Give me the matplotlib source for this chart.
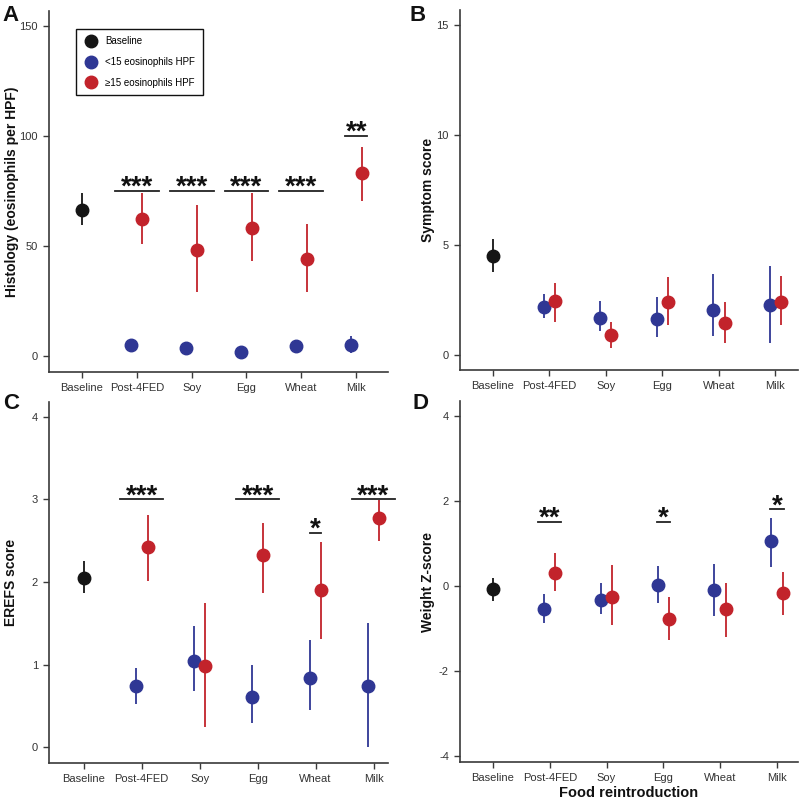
import numpy as np
import matplotlib.pyplot as plt

plt.rcParams['font.family'] = ['Liberation Sans', 'DejaVu Sans']
plt.rcParams['axes.unicode_minus'] = False

foods = ['Baseline', 'Post-4FED', 'Soy', 'Egg', 'Wheat', 'Milk']

# A - histology (eosinophils per HPF): baseline mean/low/high, then the 5 reintroduction steps
hist_base = [66.2, 59.4, 74.2]
hist_blue = [5.0, 3.5, 1.7, 4.2, 4.7]
hist_blue_lo = [4.0, 2.8, 1.0, 3.4, 1.2]
hist_blue_hi = [6.0, 4.3, 2.4, 5.0, 8.8]
hist_red = [62.3, 47.9, 58.3, 44.0, 83.3]
hist_red_lo = [50.8, 29.0, 43.2, 29.1, 70.6]
hist_red_hi = [73.9, 68.6, 73.9, 60.0, 95.0]
hist_sig = [(1, 75, 0.4, '***'), (2, 75, 0.4, '***'), (3, 75, 0.4, '***'),
            (4, 75, 0.4, '***'), (5, 100, 0.2, '**')]

# B - symptom score
symp_base = [4.5, 3.79, 5.26]
symp_blue = [2.17, 1.70, 1.62, 2.05, 2.26]
symp_blue_lo = [1.67, 1.09, 0.80, 0.86, 0.56]
symp_blue_hi = [2.80, 2.47, 2.64, 3.71, 4.05]
symp_red = [2.44, 0.91, 2.42, 1.44, 2.42]
symp_red_lo = [1.52, 0.30, 1.39, 0.56, 1.39]
symp_red_hi = [3.29, 1.52, 3.56, 2.42, 3.59]
symp_sig = []

# C - EREFS score
erefs_base = [2.05, 1.87, 2.26]
erefs_blue = [0.74, 1.05, 0.61, 0.84, 0.74]
erefs_blue_lo = [0.52, 0.68, 0.30, 0.45, 0.0]
erefs_blue_hi = [0.96, 1.47, 1.00, 1.30, 1.50]
erefs_red = [2.42, 0.99, 2.33, 1.90, 2.77]
erefs_red_lo = [2.01, 0.25, 1.87, 1.31, 2.50]
erefs_red_hi = [2.81, 1.75, 2.72, 2.48, 2.99]
erefs_sig = [(1, 3.0, 0.37, '***'), (3, 3.0, 0.37, '***'), (4, 2.6, 0.1, '*'),
             (5, 3.0, 0.37, '***')]

# D - weight Z-score
wz_base = [-0.08, -0.35, 0.18]
wz_blue = [-0.55, -0.32, 0.02, -0.10, 1.06]
wz_blue_lo = [-0.87, -0.65, -0.40, -0.70, 0.45]
wz_blue_hi = [-0.20, 0.08, 0.47, 0.51, 1.61]
wz_red = [0.31, -0.26, -0.77, -0.54, -0.16]
wz_red_lo = [-0.11, -0.92, -1.26, -1.20, -0.69]
wz_red_hi = [0.77, 0.50, -0.26, 0.07, 0.34]
wz_sig = [(1, 1.5, 0.2, '**'), (3, 1.5, 0.12, '*'), (5, 1.8, 0.12, '*')]

BLACK = '#151515'
BLUE = '#2f3794'
RED = '#c2232b'
AXC = '#3a3a3a'


def panel(ax, base, blue, blo, bhi, red, rlo, rhi, sig, ylim, yticks, xlim, ylabel, labx):
    x = np.arange(1, len(foods))
    off = 0.1
    ax.errorbar([0], [base[0]], yerr=[[base[0] - base[1]], [base[2] - base[0]]],
                fmt='o', color=BLACK, ms=9, elinewidth=1.3, capsize=0, zorder=3)
    b = np.array(blue)
    ax.errorbar(x - off, b, yerr=[b - np.array(blo), np.array(bhi) - b],
                fmt='o', color=BLUE, ms=9, elinewidth=1.3, capsize=0, zorder=3)
    r = np.array(red)
    ax.errorbar(x + off, r, yerr=[r - np.array(rlo), np.array(rhi) - r],
                fmt='o', color=RED, ms=9, elinewidth=1.3, capsize=0, zorder=3)
    for i, yy, hw, lab in sig:
        ax.plot([i - hw, i + hw], [yy, yy], color='#222222', lw=1.3, clip_on=False)
        ax.annotate(lab, (i, yy), xytext=(0, -2.7), textcoords='offset points',
                    ha='center', va='baseline', fontsize=20, fontweight='bold',
                    color='#111111', annotation_clip=False)
    ax.set_xlim(xlim)
    ax.set_ylim(ylim)
    ax.set_yticks(yticks)
    ax.set_xticks(range(len(foods)))
    ax.set_xticklabels(foods)
    ax.spines['top'].set_visible(False)
    ax.spines['right'].set_visible(False)
    for s in ['left', 'bottom']:
        ax.spines[s].set_color(AXC)
        ax.spines[s].set_linewidth(1.2)
    ax.tick_params(direction='out', length=4, width=1.0, color=AXC,
                   labelsize=8, labelcolor='#333333', pad=4)
    ax.set_ylabel(ylabel, fontsize=10, fontweight='bold', color='#111111')
    ax.yaxis.set_label_coords(labx, 0.5)


fig = plt.figure(figsize=(8, 8.01), dpi=100)
W, H = 800, 801


def add_ax(l, t, r, b):
    return fig.add_axes([l / W, 1 - b / H, (r - l) / W, (b - t) / H])


axA = add_ax(49, 11, 388, 372)
axB = add_ax(460, 10, 798, 370)
axC = add_ax(49, 402, 388, 763)
axD = add_ax(460, 401, 798, 762)

panel(axA, hist_base, hist_blue, hist_blue_lo, hist_blue_hi, hist_red, hist_red_lo,
      hist_red_hi, hist_sig, (-7.5, 157), [0, 50, 100, 150], (-0.6, 5.58),
      'Histology (eosinophils per HPF)', -0.088)
panel(axB, symp_base, symp_blue, symp_blue_lo, symp_blue_hi, symp_red, symp_red_lo,
      symp_red_hi, symp_sig, (-0.68, 15.7), [0, 5, 10, 15], (-0.58, 5.4),
      'Symptom score', -0.074)
panel(axC, erefs_base, erefs_blue, erefs_blue_lo, erefs_blue_hi, erefs_red, erefs_red_lo,
      erefs_red_hi, erefs_sig, (-0.19, 4.18), [0, 1, 2, 3, 4], (-0.6, 5.25),
      'EREFS score', -0.092)
panel(axD, wz_base, wz_blue, wz_blue_lo, wz_blue_hi, wz_red, wz_red_lo,
      wz_red_hi, wz_sig, (-4.14, 4.35), [-4, -2, 0, 2, 4], (-0.58, 5.37),
      'Weight Z-score', -0.074)
axD.set_xlabel('Food reintroduction', fontsize=10.5, fontweight='bold',
               color='#111111', labelpad=2)

# legend in panel A
h = [plt.Line2D([], [], ls='none', marker='o', ms=9, color=c) for c in (BLACK, BLUE, RED)]
leg = axA.legend(h, ['Baseline', '<15 eosinophils HPF', '\u226515 eosinophils HPF'],
                 loc='upper left', bbox_to_anchor=(0.079, 0.95), borderaxespad=0,
                 fontsize=7, frameon=True, fancybox=False, edgecolor='#111111',
                 framealpha=1, labelspacing=1.1, handletextpad=0.7,
                 borderpad=0.75, handlelength=1.6)
leg.get_frame().set_linewidth(1.0)

for lab, (px, py) in zip('ABCD', [(2, 21), (410, 21), (3, 409), (412, 409)]):
    fig.text(px / W, 1 - py / H, lab, fontsize=16, fontweight='bold',
             ha='left', va='baseline', color='#111111')

fig.savefig('out.png', dpi=100)
